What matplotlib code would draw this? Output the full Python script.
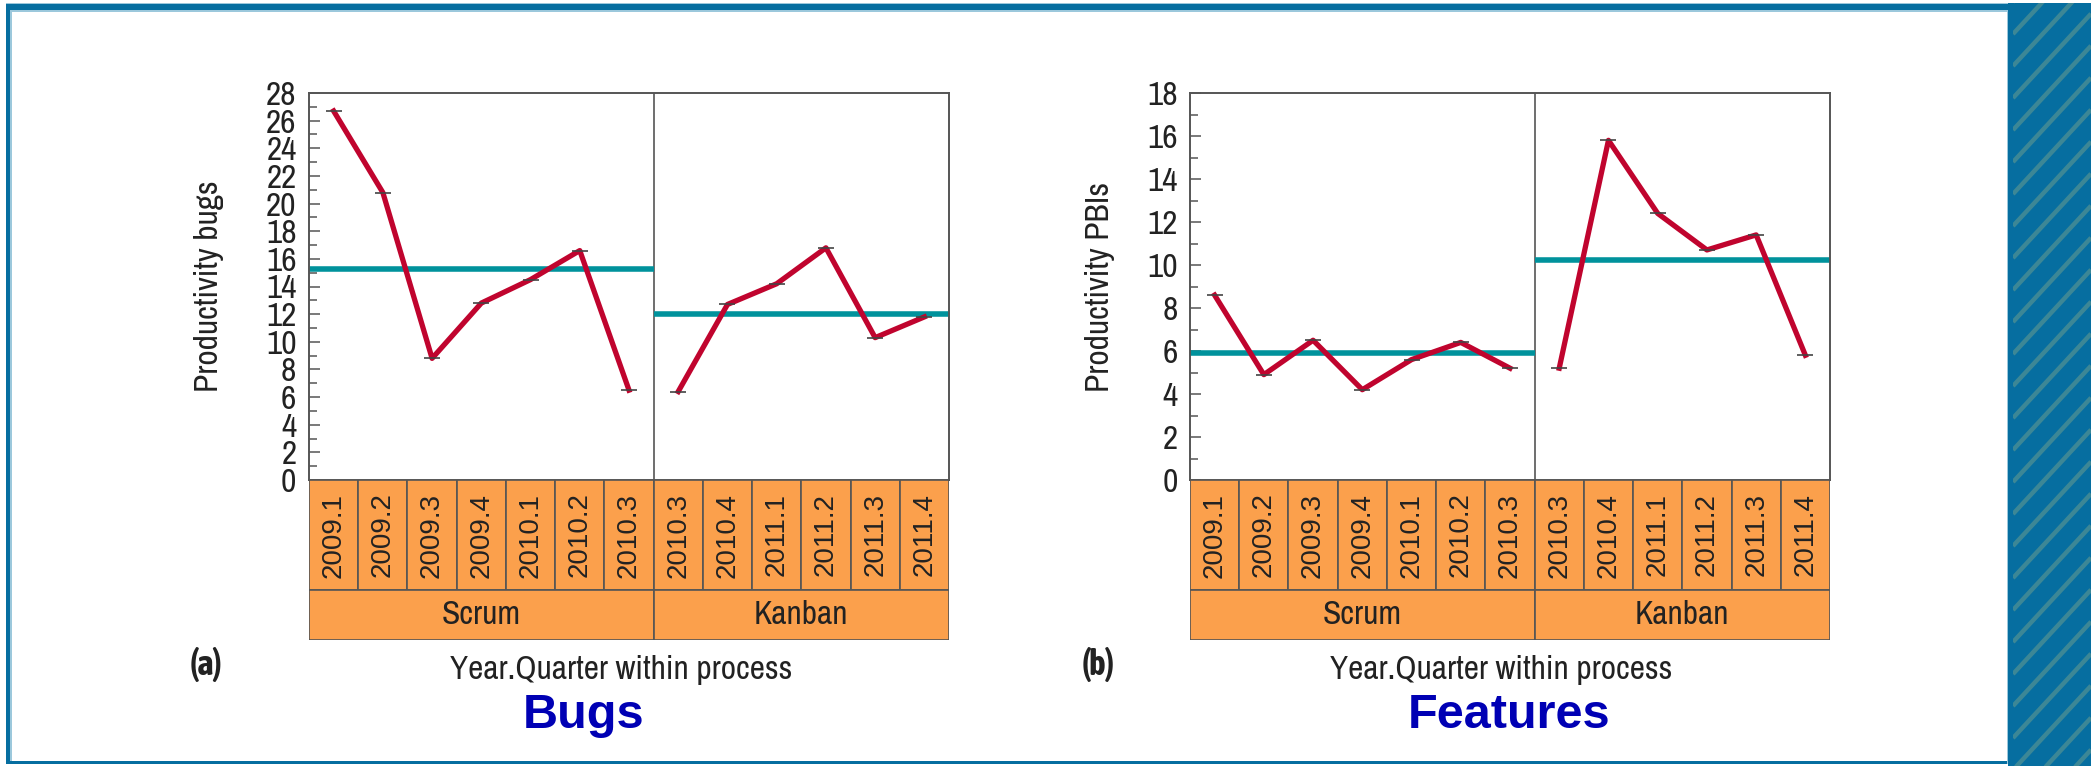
import numpy as np
import matplotlib.pyplot as plt
from matplotlib.patches import Rectangle
from matplotlib.ticker import MultipleLocator

# Quarter labels for each process
scrum_quarters = ['2009.1', '2009.2', '2009.3', '2009.4', '2010.1', '2010.2', '2010.3']
kanban_quarters = ['2010.3', '2010.4', '2011.1', '2011.2', '2011.3', '2011.4']

# Productivity in bugs per quarter
bugs_scrum = [26.7, 20.8, 8.8, 12.8, 14.5, 16.6, 6.5]
bugs_kanban = [6.4, 12.7, 14.2, 16.8, 10.3, 11.8]

# Productivity in PBIs (features) per quarter
pbis_scrum = [8.6, 4.9, 6.5, 4.2, 5.6, 6.4, 5.2]
pbis_kanban = [5.2, 15.8, 12.4, 10.7, 11.4, 5.8]

RED = '#C0042E'
TEAL = '#00929C'
ORANGE = '#FBA04C'
EDGE = '#555555'
INK = '#222222'
NAVY = '#0000B4'
BLUE = '#066EA0'
STRIPE = '#3C8796'
LIGHT = '#9CC8DC'
NARROW = ['Archivo Narrow', 'DejaVu Sans']
NARROW_BOLD = ['Asap Condensed', 'DejaVu Sans']

W, H = 2091, 766
fig = plt.figure(figsize=(W / 100, H / 100), dpi=100)


def fx(px):
    return px / W


def fy(py):
    return 1 - py / H


# page frame and striped side bar
bg = fig.add_axes([0, 0, 1, 1], zorder=-10)
bg.set_xlim(0, W)
bg.set_ylim(H, 0)
bg.axis('off')
bg.add_patch(Rectangle((6, 3), 2003, 1.5, fc=LIGHT, ec='none'))
bg.add_patch(Rectangle((6, 4), 2003, 6, fc=BLUE, ec='none'))
bg.add_patch(Rectangle((10, 10), 1.5, 752, fc=LIGHT, ec='none'))
bg.add_patch(Rectangle((10, 10), 1999, 1.5, fc=LIGHT, ec='none'))
bg.add_patch(Rectangle((6, 4), 4, 760, fc=BLUE, ec='none'))
bg.add_patch(Rectangle((6, 761), 2003, 2.5, fc=BLUE, ec='none'))
bg.add_patch(Rectangle((2006.5, 10), 1.5, 754, fc=LIGHT, ec='none'))
bg.add_patch(Rectangle((2008, 3), 83, 763, fc=BLUE, ec='none'))
clip = Rectangle((2013, 3), 78, 763, transform=bg.transData)
for c in range(2, H + 120, 32):
    ln, = bg.plot([2013, 2091], [c, c - 78 * 1.08], color=STRIPE, lw=3.2, solid_capstyle='butt')
    ln.set_clip_path(clip)


def panel(x0, scrum, kanban, ymax, ylabel, ylabel_x, tag, tag_x, xlabel_x, title, title_x):
    n_s, n_k = len(scrum), len(kanban)
    ax = fig.add_axes([fx(x0), fy(480), 640 / W, 387 / H])
    xs = np.arange(n_s) + 0.5
    xk = n_s + np.arange(n_k) + 0.5

    # process means
    ax.hlines(np.mean(scrum), 0, n_s, color=TEAL, lw=4, zorder=2)
    ax.hlines(np.mean(kanban), n_s, n_s + n_k, color=TEAL, lw=4, zorder=2)

    for x, y in ((xs, scrum), (xk, kanban)):
        ax.plot(x, y, color=RED, lw=3.8, zorder=3)
        ax.plot(x, y, ls='none', marker='_', ms=11, mew=1.2, color='#444444', zorder=4)

    ax.axvline(n_s, color=EDGE, lw=1.2, zorder=1)
    ax.set_xlim(0, n_s + n_k)
    ax.set_ylim(0, ymax)
    ax.set_xticks([])
    ax.yaxis.set_major_locator(MultipleLocator(2))
    ax.yaxis.set_minor_locator(MultipleLocator(1))
    ax.tick_params(axis='y', which='both', direction='in', pad=9, labelsize=24, color=EDGE,
                   labelcolor=INK)
    ax.tick_params(axis='y', which='major', length=8, width=1.1)
    ax.tick_params(axis='y', which='minor', length=6, width=1.1)
    for lab in ax.get_yticklabels():
        lab.set_fontfamily(NARROW)
    for sp in ax.spines.values():
        sp.set_color(EDGE)
        sp.set_linewidth(1.4)
    ax.set_ylabel(ylabel, fontsize=24, family=NARROW, color=INK)
    ax.yaxis.set_label_coords((ylabel_x - x0) / 640, 0.5)

    # category table under the plot
    tb = fig.add_axes([fx(x0), fy(640), 640 / W, 160 / H])
    tb.set_xlim(0, n_s + n_k)
    tb.set_ylim(0, 160)
    tb.axis('off')
    for i, q in enumerate(scrum_quarters + kanban_quarters):
        tb.add_patch(Rectangle((i, 50), 1, 110, fc=ORANGE, ec=EDGE, lw=1.2))
        tb.text(i + 0.5, 105, q, rotation=90, ha='center', va='center',
                fontsize=20, family='Liberation Sans', color=INK)
    tb.add_patch(Rectangle((0, 0), n_s, 50, fc=ORANGE, ec=EDGE, lw=1.2))
    tb.add_patch(Rectangle((n_s, 0), n_k, 50, fc=ORANGE, ec=EDGE, lw=1.2))
    tb.text(n_s / 2, 25, 'Scrum', ha='center', va='center', fontsize=24, family=NARROW, color=INK)
    tb.text(n_s + n_k / 2, 25, 'Kanban', ha='center', va='center', fontsize=24, family=NARROW, color=INK)

    fig.text(fx(tag_x), fy(665), tag, ha='center', va='center', fontsize=25,
             fontweight='bold', family=NARROW_BOLD, color=INK)
    fig.text(fx(xlabel_x), fy(670), 'Year.Quarter within process', ha='center', va='center',
             fontsize=24, family=NARROW, color=INK)
    fig.text(fx(title_x), fy(716), title, ha='center', va='center', fontsize=35,
             fontweight='bold', family='Liberation Sans', color=NAVY)


panel(309, bugs_scrum, bugs_kanban, 28, 'Productivity bugs', 224, '(a)', 206, 621, 'Bugs', 584)
panel(1190, pbis_scrum, pbis_kanban, 18, 'Productivity PBIs', 1115, '(b)', 1098, 1501, 'Features', 1509)

fig.savefig('out.png', dpi=100, facecolor='white')
